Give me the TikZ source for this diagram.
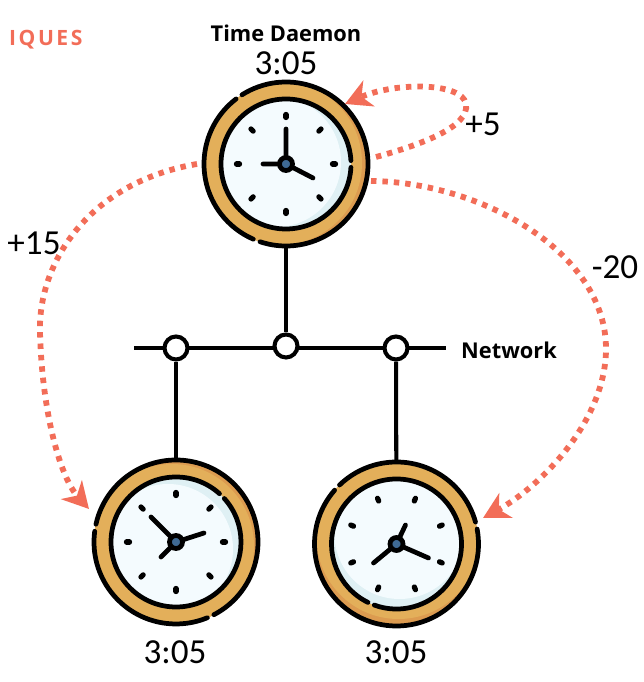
\documentclass[tikz,border=0pt]{standalone}
\usepackage{fontspec}
\setmainfont{Carlito}
\newfontfamily\headfont{Open Sans}
\newfontfamily\titlefont[LetterSpace=12]{Open Sans}
\usetikzlibrary{arrows.meta,shapes,positioning,calc}

\definecolor{syncred}{HTML}{F26D58}
\definecolor{ringfill}{HTML}{E3AF5A}
\definecolor{ringshade}{HTML}{DC9B50}
\definecolor{facefill}{HTML}{F4FBFE}
\definecolor{faceshade}{HTML}{DFF0F4}
\definecolor{hubfill}{HTML}{3F6A94}

\tikzset{
  clockbase/.style={circle, minimum size=3.3cm, inner sep=0pt},
  tapnode/.style={circle, draw=black, fill=white, line width=2.3pt, minimum size=0.46cm, inner sep=0pt},
  wire/.style={line width=2.3pt, black},
  ringline/.style={line width=2.7pt, black, line cap=round},
  handline/.style={line width=2.7pt, black, line cap=round},
  tickline/.style={line width=3pt, black, line cap=round},
  timelabel/.style={font=\fontsize{20}{22}\selectfont},
  offsetlabel/.style={font=\fontsize{20}{22}\selectfont},
  headlabel/.style={font=\headfont\bfseries\fontsize{12.4}{15}\selectfont},
  syncarrow/.style={line width=3.3pt, syncred, dash pattern=on 3.1pt off 3.4pt,
    -{Stealth[length=0.52cm,width=0.56cm,inset=0.16cm]}},
  % outer gaps, inner gap, ring shift, face shift, tick turn, hands
  pics/clockface/.style n args={7}{code={
    \fill[ringshade] (0,0) circle (82);
    \begin{scope}
      \clip (0,0) circle (82);
      \fill[ringfill] #4 circle (82);
    \end{scope}
    \fill[faceshade] (0,0) circle (65);
    \begin{scope}
      \clip (0,0) circle (65);
      \fill[facefill] #5 circle (65);
    \end{scope}
    % outer ring, two arcs
    \draw[ringline] ({#1+2.5}:82) arc[start angle={#1+2.5}, end angle={#2-2.5}, radius=82];
    \draw[ringline] ({#2+2.5}:82) arc[start angle={#2+2.5}, end angle={#1+357.5}, radius=82];
    % inner ring, one gap
    \draw[ringline] ({#3+3}:65) arc[start angle={#3+3}, end angle={#3+357}, radius=65];
    % ticks
    \foreach \a in {0,45,...,315}
      \draw[tickline] ({\a+#6}:46.5) -- ({\a+#6}:49.5);
    % hands and hub
    \draw[handline] #7;
    \filldraw[draw=black, fill=hubfill, line width=2.7pt] (0,0) circle (6.5);
  }}
}

\begin{document}
\begin{tikzpicture}[x=0.02cm,y=0.02cm]
  \useasboundingbox (0,0) rectangle (644,682);

  % Clocks
  \node[clockbase] (daemon) at (286,518) {};
  \node[clockbase] (slavea) at (176,140) {};
  \node[clockbase] (slaveb) at (396.5,138) {};

  % Network bus
  \coordinate (busl) at (134,334);
  \coordinate (busr) at (446,334);
  \draw[wire] (busl) -- (busr);
  \node[tapnode] (tapa) at (176,334) {};
  \node[tapnode] (tapc) at (286,336) {};
  \node[tapnode] (tapb) at (396,334) {};
  \draw[wire] (daemon) -- (tapc);
  \draw[wire] (tapa) -- (slavea);
  \draw[wire] (tapb) -- (slaveb);

  \pic at (daemon.center) {clockface={125}{249}{0}{(-6,1)}{(-10,2)}{0}{(0,0) -- (0,35) (0,0) -- (-23,0) (0,0) -- (27,-14)}};
  \pic at (slavea.center) {clockface={170}{295}{45}{(-4,-4)}{(-8,-7)}{0}{(0,0) -- (-25,25) (0,0) -- (28,9) (0,0) -- (-15,-15)}};
  \pic at (slaveb.center) {clockface={13}{136.5}{247}{(2,7)}{(3,10)}{22.5}{(0,0) -- (9,19) (0,0) -- (32,-14) (0,0) -- (-23,-19)}};

  % Sync arrows
  \coordinate (loopout) at (376,525);
  \coordinate (loopin) at (345,578);
  \coordinate (rightout) at (371,501);
  \coordinate (rightin) at (483,164);
  \coordinate (leftout) at (197,518);
  \coordinate (leftin) at (89,173);
  \draw[syncarrow] (loopout) .. controls (420,537) and (470,555) .. (466,578)
    .. controls (462,600) and (395,600) .. (loopin);
  \draw[syncarrow] (rightout) .. controls (480,500) and (607,430) .. (606,332)
    .. controls (605,260) and (540,195) .. (rightin);
  \draw[syncarrow] (leftout) .. controls (90,500) and (38,420) .. (40,350)
    .. controls (42,270) and (60,205) .. (leftin);

  % Labels
  \node[headlabel] (daemonname) at (286,649) {Time Daemon};
  \node[timelabel] (daemontime) at (286,619) {3:05};
  \node[timelabel] (slaveatime) at (175,30) {3:05};
  \node[timelabel] (slavebtime) at (396,30) {3:05};
  \node[offsetlabel] (offseta) at (483,558) {+5};
  \node[offsetlabel] (offsetb) at (34,439) {+15};
  \node[offsetlabel] (offsetc) at (615,415) {-20};
  \node[headlabel] (netname) at (509,332) {Network};
  \node[text=syncred, anchor=west, font=\titlefont\bfseries\fontsize{12}{14}\selectfont] (cliptitle) at (3,642) {IQUES};
\end{tikzpicture}
\end{document}
